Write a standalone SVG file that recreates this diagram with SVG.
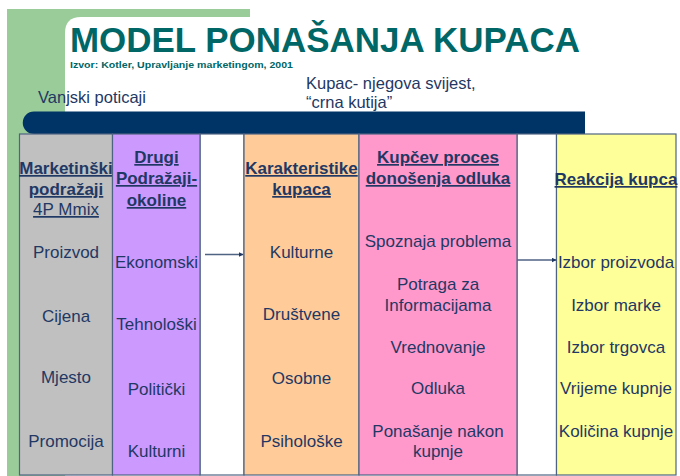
<svg xmlns="http://www.w3.org/2000/svg" width="680" height="476" viewBox="0 0 680 476">
<defs>
<style>
.t{font-family:"Liberation Sans",Arial,sans-serif;fill:#1f3864;text-anchor:middle}
.b{font-size:17px}
.h{font-size:17px;font-weight:bold;text-decoration:underline}
.col{stroke:#4f6383;stroke-width:1.2}
.conn{stroke:#4f6383;stroke-width:1.3;fill:none}
</style>
<marker id="ah" viewBox="0 0 10 10" refX="9" refY="5" markerWidth="5" markerHeight="5" orient="auto" markerUnits="userSpaceOnUse">
<path d="M0,0 L10,5 L0,10 Z" fill="#1f3864"/>
</marker>
</defs>
<rect width="680" height="476" fill="#ffffff"/>
<g id="background">
<rect x="7" y="9" width="243" height="467" fill="#99cc99"/>
<path d="M65,476 V33 Q65,17 81,17 H250 V476 Z" fill="#ffffff"/>
</g>
<g id="title">
<text x="70" y="51.5" font-family="Liberation Sans,Arial,sans-serif" font-weight="bold" font-size="35" fill="#006666" textLength="510" lengthAdjust="spacingAndGlyphs">MODEL PONAŠANJA KUPACA</text>
<text x="70" y="67.5" font-family="Liberation Sans,Arial,sans-serif" font-weight="bold" font-size="9.5" fill="#006666" textLength="223" lengthAdjust="spacingAndGlyphs">Izvor: Kotler, Upravljanje marketingom, 2001</text>
</g>
<g id="labels">
<text x="38" y="103" font-family="Liberation Sans,Arial,sans-serif" font-size="16.5" fill="#1f3864">Vanjski poticaji</text>
<text x="306" y="89" font-family="Liberation Sans,Arial,sans-serif" font-size="16.5" fill="#1f3864">Kupac- njegova svijest,</text>
<text x="306" y="108" font-family="Liberation Sans,Arial,sans-serif" font-size="16.5" fill="#1f3864">“crna kutija”</text>
</g>
<g id="bar">
<path d="M34,111.5 H585 V134 H34 A11.25,11.25 0 0 1 34,111.5 Z" fill="#003366"/>
</g>
<g id="gaps">
<rect x="200" y="134" width="44" height="341" fill="#ffffff" class="col"/>
<rect x="517" y="134" width="39.5" height="341" fill="#ffffff" class="col"/>
</g>
<g id="col-marketing">
<rect x="19.5" y="134" width="93" height="341" fill="#c0c0c0" class="col"/>
<text class="t h" x="66" y="174">Marketinški</text>
<text class="t h" x="66" y="195">podražaji</text>
<text class="t b" x="66" y="215" text-decoration="underline">4P Mmix</text>
<text class="t b" x="66" y="258">Proizvod</text>
<text class="t b" x="66" y="322">Cijena</text>
<text class="t b" x="66" y="383">Mjesto</text>
<text class="t b" x="66" y="447">Promocija</text>
</g>
<g id="col-drugi">
<rect x="112.5" y="134" width="87.5" height="341" fill="#cc99ff" class="col"/>
<text class="t h" x="156.5" y="163">Drugi</text>
<text class="t h" x="156.5" y="184">Podražaji-</text>
<text class="t h" x="156.5" y="206">okoline</text>
<text class="t b" x="156.5" y="268">Ekonomski</text>
<text class="t b" x="156.5" y="330">Tehnološki</text>
<text class="t b" x="156.5" y="395">Politički</text>
<text class="t b" x="156.5" y="457">Kulturni</text>
</g>
<g id="col-karakteristike">
<rect x="244" y="134" width="115" height="341" fill="#ffcc99" class="col"/>
<text class="t h" x="301.5" y="174">Karakteristike</text>
<text class="t h" x="301.5" y="195">kupaca</text>
<text class="t b" x="301.5" y="258">Kulturne</text>
<text class="t b" x="301.5" y="320">Društvene</text>
<text class="t b" x="301.5" y="384">Osobne</text>
<text class="t b" x="301.5" y="447">Psihološke</text>
</g>
<g id="col-proces">
<rect x="359" y="134" width="158" height="341" fill="#ff99cc" class="col"/>
<text class="t h" x="438" y="163">Kupčev proces</text>
<text class="t h" x="438" y="184">donošenja odluka</text>
<text class="t b" x="438" y="247">Spoznaja problema</text>
<text class="t b" x="438" y="290">Potraga za</text>
<text class="t b" x="438" y="311">Informacijama</text>
<text class="t b" x="438" y="353">Vrednovanje</text>
<text class="t b" x="438" y="394">Odluka</text>
<text class="t b" x="438" y="437">Ponašanje nakon</text>
<text class="t b" x="438" y="457">kupnje</text>
</g>
<g id="col-reakcija">
<rect x="556.5" y="134" width="119.5" height="341" fill="#ffff99" class="col"/>
<text class="t h" x="616" y="185">Reakcija kupca</text>
<text class="t b" x="616" y="268">Izbor proizvoda</text>
<text class="t b" x="616" y="311">Izbor marke</text>
<text class="t b" x="616" y="353">Izbor trgovca</text>
<text class="t b" x="616" y="394">Vrijeme kupnje</text>
<text class="t b" x="616" y="437">Količina kupnje</text>
</g>
<g id="connectors">
<line class="conn" x1="205" y1="254.5" x2="243" y2="254.5" marker-end="url(#ah)"/>
<line class="conn" x1="517" y1="260" x2="556" y2="260" marker-end="url(#ah)"/>
</g>
</svg>
